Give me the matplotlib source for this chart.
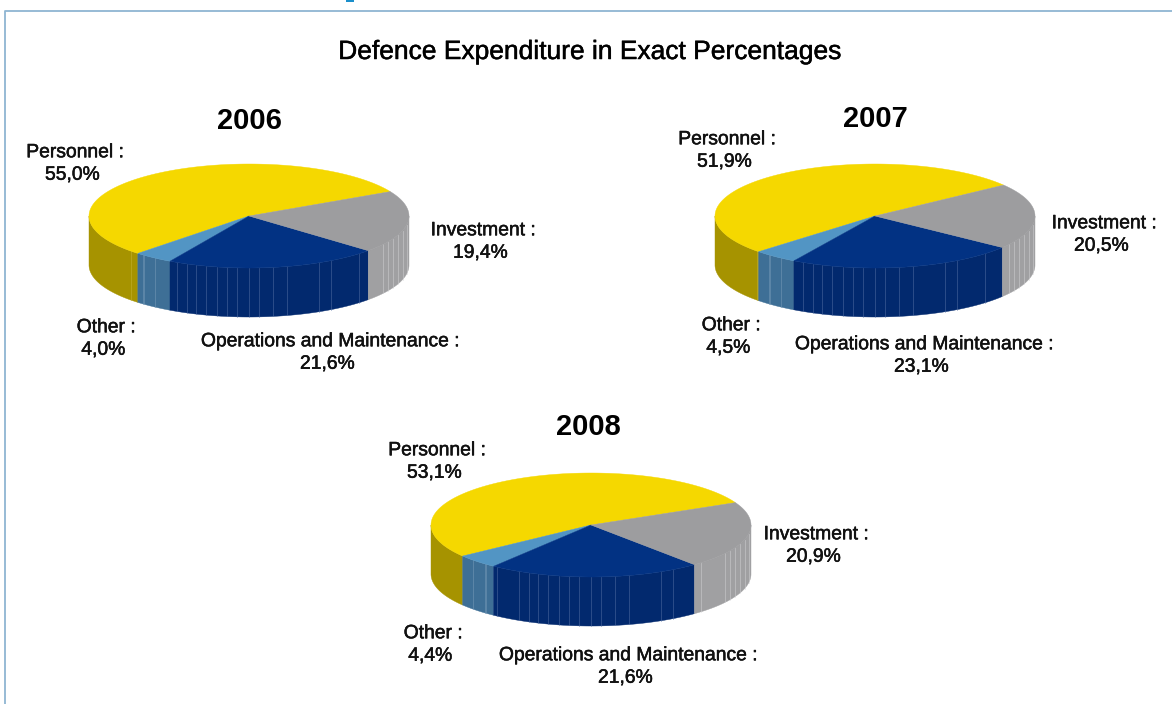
import numpy as np
import matplotlib
matplotlib.use("Agg")
import matplotlib.pyplot as plt
import matplotlib.patheffects as pe
from matplotlib.patches import Rectangle

plt.rcParams['font.family'] = ['Liberation Sans', 'DejaVu Sans']

# ---- data ----
title = "Defence Expenditure in Exact Percentages"
categories = ["Personnel", "Other", "Operations and Maintenance", "Investment"]
years = ["2006", "2007", "2008"]
values_2006 = [55.0, 4.0, 21.6, 19.4]
values_2007 = [51.9, 4.5, 23.1, 20.5]
values_2008 = [53.1, 4.4, 21.6, 20.9]

# ---- style / layout (pixels) ----
W, H = 1172, 704
top_col = ["#F5D800", "#5295C4", "#023283", "#9D9D9F"]
wall_col = ["#A69300", "#3E6F96", "#02296E", "#A0A0A2"]
streak_col = ["#C9B63A", "#7FA0BC", "#5A75A8", "#D5D5D8"]
RX, RY, DEPTH = 160, 52, 49
pies = {
    "2006": dict(vals=values_2006, c=(249, 216), start=28.0, ty=(249, 121),
                 lab=[(75, 164), (106, 339), (330, 353), (483, 242)]),
    "2007": dict(vals=values_2007, c=(875, 216), start=36.5, ty=(875, 119),
                 lab=[(727, 151), (731, 337), (924, 356), (1104, 235)]),
    "2008": dict(vals=values_2008, c=(591, 525), start=25.5, ty=(588, 427),
                 lab=[(437, 462), (433, 645), (628, 667), (816, 546)]),
}
# relative x-positions of the thin vertical streaks on the walls
streaks = [-0.74, -0.66, -0.655, -0.59, -0.45, -0.39, -0.33, -0.27, -0.20, -0.14,
           -0.075, -0.0, 0.0625, 0.15, 0.24, 0.44, 0.51, 0.69, 0.84, 0.87, 0.90, 0.93, 0.96, 0.985]
medium = [pe.withStroke(linewidth=0.35, foreground="#000000")]

fig = plt.figure(figsize=(W / 100, H / 100), dpi=100, facecolor="white")
ax = fig.add_axes([0, 0, 1, 1])
ax.set_xlim(0, W)
ax.set_ylim(H, 0)
ax.axis("off")

# frame
ax.plot([5, 5, W], [H, 10.5, 10.5], color="#8FB5D2", lw=1.3, solid_capstyle="butt")
ax.add_patch(Rectangle((346, 0), 8, 2, color="#1B8FCB", lw=0))

ax.text(590, 52, title, ha="center", va="center", fontsize=19, color="#000000",
        path_effects=medium)


def pt(c, deg):
    a = np.radians(deg)
    return c[0] + RX * np.cos(a), c[1] - RY * np.sin(a)


for year in years:
    p = pies[year]
    c, vals = p["c"], p["vals"]
    spans = np.array(vals) / sum(vals) * 360
    a0 = p["start"]
    bounds = []
    for i, s in enumerate(spans):
        a1 = a0 + s
        bounds.append((a0, a1))
        a0 = a1
    # walls
    for i, (a, b) in enumerate(bounds):
        for shift in (0, 360, -360):
            lo, hi = max(a + shift, 180), min(b + shift, 360)
            if lo < hi:
                th = np.linspace(lo, hi, 120)
                xs, ys = pt(c, th)
                ax.fill(np.r_[xs, xs[::-1]], np.r_[ys, ys[::-1] + DEPTH],
                        color=wall_col[i], lw=0.3, zorder=2)
                for r in streaks:
                    t = 360 - np.degrees(np.arccos(r))
                    if lo < t < hi:
                        x, y = pt(c, t)
                        ax.plot([x, x], [y, y + DEPTH], color=streak_col[i], lw=0.6,
                                alpha=0.55, zorder=3)
    # top faces
    for i, (a, b) in enumerate(bounds):
        th = np.linspace(a, b, 200)
        xs, ys = pt(c, th)
        ax.fill(np.r_[c[0], xs], np.r_[c[1], ys], color=top_col[i], lw=0.3, zorder=4)
    # year heading
    ax.text(*p["ty"], year, ha="center", va="center", fontsize=21, fontweight="bold", color="#000000")
    # labels
    for i, cat in enumerate(categories):
        txt = f"{cat} :\n{vals[i]:.1f}% ".replace(".", ",")
        ax.text(*p["lab"][i], txt, ha="center", va="center", fontsize=13.9,
                linespacing=1.42, color="#111111", zorder=5, path_effects=medium)

fig.savefig("out.png", dpi=100)
